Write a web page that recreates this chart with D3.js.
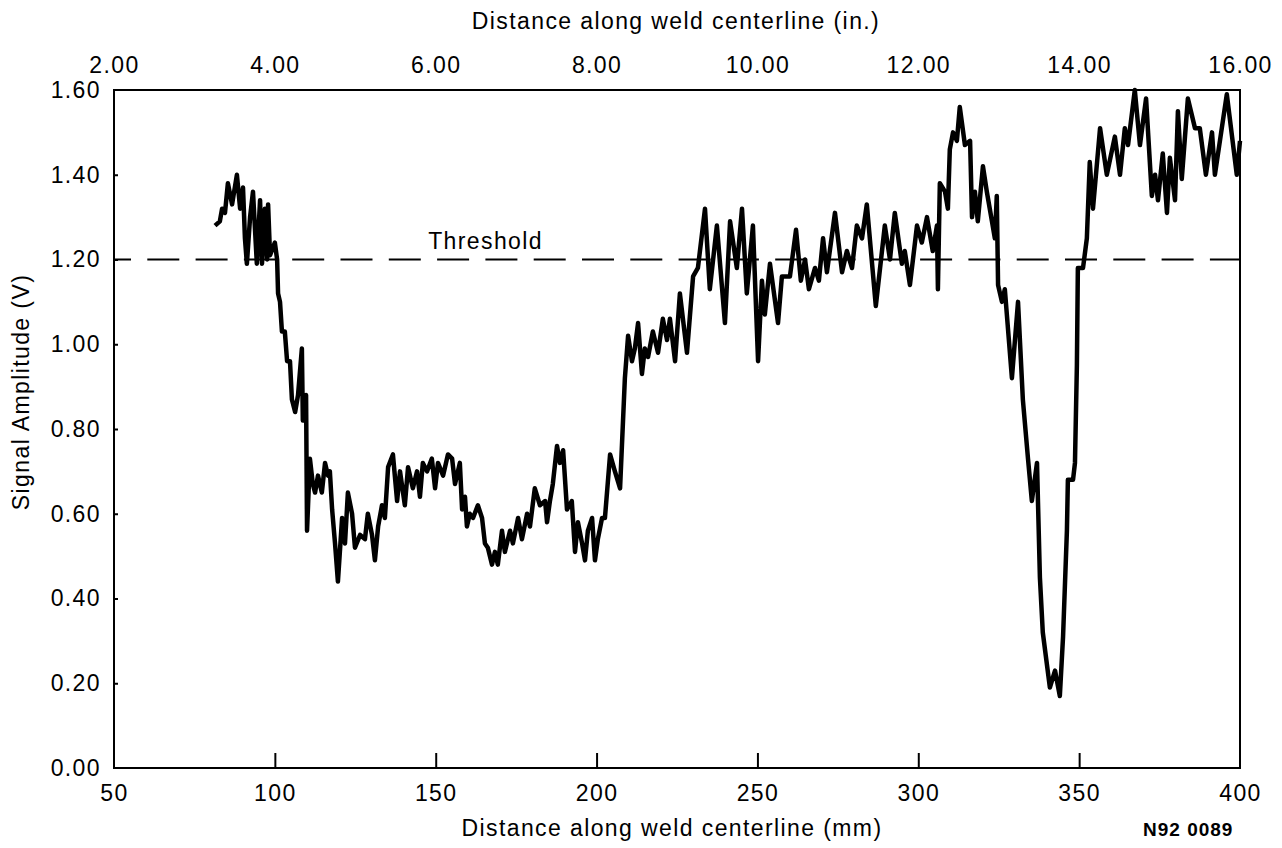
<!DOCTYPE html>
<html>
<head>
<meta charset="utf-8">
<script src="https://cdn.jsdelivr.net/npm/d3@7"></script>
<style>
  html, body { margin: 0; padding: 0; background: #fff; }
  svg { display: block; font-family: "Liberation Sans", Arial, Helvetica, sans-serif; }
</style>
</head>
<body>
<svg id="chart" width="1282" height="848"></svg>
<script>
// ---- Data ----
const distanceMm = [
  81.4, 82.9, 83.6, 84.5, 85.4, 86.7, 88.2, 89.2, 90.1, 90.7,
  91.3, 92.3, 93.2, 94.4, 95.4, 96.0, 96.9, 97.6, 97.9, 98.5,
  100.0, 100.7, 101.0, 101.6, 102.2, 103.1, 103.8, 104.7, 105.3, 106.3,
  107.2, 108.4, 108.7, 109.7, 110.0, 110.9, 111.8, 112.5, 113.4, 114.6,
  115.6, 116.5, 117.1, 117.8, 118.7, 119.6, 120.9, 121.8, 122.7, 124.0,
  124.9, 126.5, 128.0, 128.9, 130.2, 131.1, 132.1, 133.3, 134.2, 135.2,
  136.7, 138.0, 138.9, 140.4, 141.4, 142.9, 144.2, 145.1, 146.0, 147.3,
  148.8, 149.8, 150.7, 152.3, 153.8, 155.1, 156.0, 157.5, 158.2, 159.1,
  159.7, 160.6, 161.6, 163.1, 164.4, 165.3, 166.2, 167.5, 168.4, 169.3,
  170.6, 171.5, 173.1, 174.0, 175.6, 176.8, 178.4, 179.3, 180.8, 182.4,
  184.0, 184.6, 185.5, 186.4, 187.7, 188.6, 189.6, 190.8, 192.3, 193.3,
  194.2, 195.5, 196.4, 197.3, 198.6, 199.5, 200.4, 201.7, 202.6, 204.2,
  205.7, 207.3, 208.8, 209.8, 211.0, 211.9, 212.9, 214.1, 215.0, 216.0,
  217.5, 219.1, 220.6, 221.9, 222.8, 224.4, 225.9, 228.1, 230.0, 231.5,
  233.7, 235.2, 237.4, 239.9, 241.5, 243.6, 245.2, 246.7, 248.6, 250.2,
  251.4, 252.3, 253.9, 256.4, 257.6, 260.1, 262.0, 263.5, 264.8, 266.0,
  267.9, 269.1, 270.4, 271.6, 274.1, 276.3, 277.8, 279.4, 280.9, 282.5,
  284.0, 286.8, 289.6, 291.2, 292.7, 294.9, 295.8, 297.4, 299.6, 301.1,
  302.7, 304.5, 305.8, 306.1, 306.7, 308.3, 309.2, 309.8, 310.8, 312.0,
  312.9, 314.5, 316.1, 316.7, 317.6, 318.5, 320.1, 321.3, 322.9, 323.8,
  324.4, 324.8, 326.0, 326.9, 329.1, 331.0, 332.5, 334.1, 335.3, 336.9,
  337.8, 338.7, 340.9, 342.5, 344.0, 345.0, 346.2, 346.5, 348.1, 348.7,
  349.3, 349.6, 351.2, 352.4, 353.3, 354.3, 356.5, 358.6, 361.1, 362.7,
  364.2, 365.2, 367.3, 368.9, 370.8, 372.6, 373.6, 374.5, 376.0, 377.3,
  378.2, 379.8, 380.7, 381.9, 383.8, 386.0, 387.5, 389.4, 391.3, 392.2,
  395.9, 399.0, 400.0
];
const amplitudeV = [
  1.28, 1.29, 1.32, 1.31, 1.38, 1.33, 1.40, 1.32, 1.37, 1.25,
  1.19, 1.30, 1.36, 1.19, 1.34, 1.19, 1.32, 1.20, 1.33, 1.21,
  1.24, 1.20, 1.12, 1.10, 1.03, 1.03, 0.96, 0.96, 0.87, 0.84,
  0.88, 0.99, 0.82, 0.88, 0.56, 0.73, 0.67, 0.65, 0.69, 0.65,
  0.72, 0.69, 0.70, 0.61, 0.53, 0.44, 0.59, 0.53, 0.65, 0.60,
  0.52, 0.55, 0.54, 0.60, 0.55, 0.49, 0.57, 0.62, 0.59, 0.71,
  0.74, 0.63, 0.70, 0.62, 0.71, 0.66, 0.70, 0.64, 0.72, 0.70,
  0.73, 0.66, 0.72, 0.69, 0.74, 0.73, 0.67, 0.72, 0.61, 0.64,
  0.57, 0.60, 0.59, 0.62, 0.59, 0.53, 0.52, 0.48, 0.51, 0.48,
  0.56, 0.51, 0.56, 0.53, 0.59, 0.54, 0.60, 0.57, 0.66, 0.62,
  0.63, 0.58, 0.63, 0.67, 0.76, 0.72, 0.75, 0.61, 0.63, 0.51,
  0.58, 0.53, 0.49, 0.56, 0.59, 0.49, 0.54, 0.59, 0.59, 0.74,
  0.70, 0.66, 0.92, 1.02, 0.96, 0.99, 1.05, 0.93, 0.99, 0.97,
  1.03, 0.98, 1.06, 1.01, 1.06, 0.96, 1.12, 0.98, 1.16, 1.18,
  1.32, 1.13, 1.28, 1.05, 1.29, 1.18, 1.32, 1.12, 1.28, 0.96,
  1.15, 1.07, 1.19, 1.05, 1.16, 1.16, 1.27, 1.15, 1.20, 1.13,
  1.18, 1.15, 1.25, 1.17, 1.31, 1.17, 1.22, 1.18, 1.28, 1.25,
  1.33, 1.09, 1.28, 1.20, 1.31, 1.19, 1.22, 1.14, 1.28, 1.24,
  1.30, 1.22, 1.28, 1.13, 1.38, 1.36, 1.32, 1.46, 1.50, 1.48,
  1.56, 1.47, 1.48, 1.30, 1.36, 1.29, 1.42, 1.36, 1.29, 1.25,
  1.35, 1.14, 1.10, 1.13, 0.92, 1.10, 0.87, 0.73, 0.63, 0.72,
  0.45, 0.32, 0.19, 0.23, 0.17, 0.31, 0.56, 0.68, 0.68, 0.72,
  0.95, 1.18, 1.18, 1.25, 1.43, 1.32, 1.51, 1.40, 1.49, 1.40,
  1.51, 1.47, 1.60, 1.47, 1.58, 1.35, 1.40, 1.34, 1.45, 1.31,
  1.44, 1.34, 1.55, 1.39, 1.58, 1.51, 1.51, 1.40, 1.50, 1.40,
  1.59, 1.40, 1.48
];
const thresholdV = 1.20;
const xTicksMm = [50, 100, 150, 200, 250, 300, 350, 400];
const xTicksIn = [2, 4, 6, 8, 10, 12, 14, 16];
const yTicksV = [0, 0.2, 0.4, 0.6, 0.8, 1.0, 1.2, 1.4, 1.6];
const labels = {
  xBottom: "Distance along weld centerline (mm)",
  xTop: "Distance along weld centerline (in.)",
  y: "Signal Amplitude (V)",
  threshold: "Threshold",
  code: "N92 0089"
};

// ---- Layout ----
const L = 114, R = 1240, T = 90, B = 768;
const FS = 23, LS = "1.4px";
const FF = "'Liberation Sans', Arial, sans-serif";
const svg = d3.select("#chart");
const x = d3.scaleLinear().domain([50, 400]).range([L, R]);
const xTop = d3.scaleLinear().domain([2, 16]).range([L, R]);
const y = d3.scaleLinear().domain([0, 1.6]).range([B, T]);
const fmt = d3.format(".2f");

function styleText(sel) {
  sel.attr("font-size", FS).attr("fill", "#000").attr("font-family", FF)
     .attr("letter-spacing", LS);
}

// Frame
svg.append("rect")
  .attr("x", L).attr("y", T).attr("width", R - L).attr("height", B - T)
  .attr("fill", "none").attr("stroke", "#000").attr("stroke-width", 2);

// Bottom axis (inward ticks)
const gB = svg.append("g").attr("transform", `translate(0,${B})`)
  .call(d3.axisBottom(x).tickValues(xTicksMm).tickFormat(d3.format("d")).tickSize(0).tickPadding(17));
gB.select(".domain").remove();
styleText(gB.selectAll("text"));
gB.selectAll(".tick").filter(d => d !== 50 && d !== 400)
  .append("line").attr("y1", 0).attr("y2", -15).attr("stroke", "#000").attr("stroke-width", 2);

// Top axis
const gT = svg.append("g").attr("transform", `translate(0,${T})`)
  .call(d3.axisTop(xTop).tickValues(xTicksIn).tickFormat(fmt).tickSize(0).tickPadding(17));
gT.select(".domain").remove();
styleText(gT.selectAll("text"));

// Left axis (small inward ticks)
const gL = svg.append("g").attr("transform", `translate(${L},0)`)
  .call(d3.axisLeft(y).tickValues(yTicksV).tickFormat(fmt).tickSize(0).tickPadding(13));
gL.select(".domain").remove();
styleText(gL.selectAll("text"));
gL.selectAll(".tick").filter(d => d !== 0 && d !== 1.6)
  .append("line").attr("x1", 0).attr("x2", 4).attr("stroke", "#000").attr("stroke-width", 2);

// Threshold line
svg.append("line")
  .attr("x1", L).attr("x2", R).attr("y1", y(thresholdV)).attr("y2", y(thresholdV))
  .attr("stroke", "#000").attr("stroke-width", 2)
  .attr("stroke-dasharray", "32,16.3").attr("stroke-dashoffset", 15);
styleText(svg.append("text")
  .attr("x", x(165.5)).attr("y", y(thresholdV) - 11)
  .attr("text-anchor", "middle").text(labels.threshold));

// Data line
const line = d3.line().x((d, i) => x(distanceMm[i])).y(d => y(d));
svg.append("path").datum(amplitudeV)
  .attr("d", line).attr("fill", "none").attr("stroke", "#000")
  .attr("stroke-width", 4.5).attr("stroke-linejoin", "round").attr("stroke-linecap", "butt");

// Titles
styleText(svg.append("text").attr("x", 672).attr("y", 836).attr("text-anchor", "middle")
  .text(labels.xBottom));
styleText(svg.append("text").attr("x", 676).attr("y", 29).attr("text-anchor", "middle")
  .text(labels.xTop));
styleText(svg.append("text").attr("transform", "translate(29,392) rotate(-90)")
  .attr("text-anchor", "middle").text(labels.y));
svg.append("text").attr("x", 1143).attr("y", 836)
  .attr("font-size", 19).attr("font-weight", "bold").attr("letter-spacing", "1px")
  .attr("font-family", FF).text(labels.code);
</script>
</body>
</html>
